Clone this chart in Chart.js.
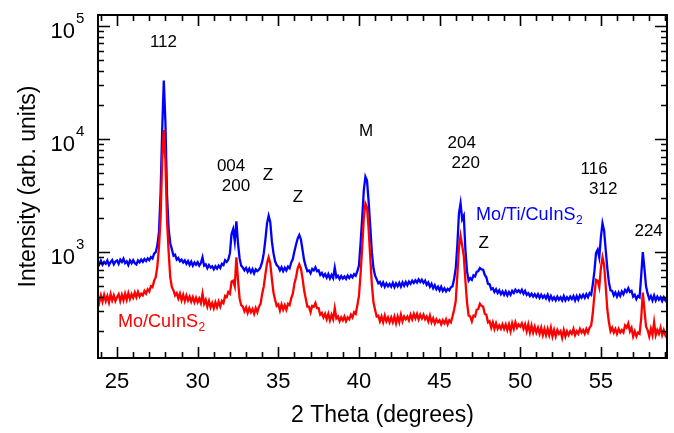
<!DOCTYPE html>
<html><head><meta charset="utf-8">
<script src="https://cdn.jsdelivr.net/npm/chart.js@4/dist/chart.umd.min.js"></script>
<style>html,body{margin:0;padding:0;background:#fff}#wrap{width:674px;height:433px;position:relative}</style>
</head><body><div id="wrap"><canvas id="c" width="674" height="433"></canvas></div>
<script>
// 2-theta positions (degrees)
const twoTheta = [
23.8,23.9,
24.0,24.1,24.2,24.3,24.4,24.5,24.6,24.7,24.8,24.9,
25.0,25.1,25.2,25.3,25.4,25.5,25.6,25.7,25.8,25.9,
26.0,26.1,26.2,26.3,26.4,26.5,26.6,26.7,26.8,26.9,
27.0,27.1,27.2,27.3,27.4,27.5,27.6,27.7,27.8,27.9,
28.0,28.1,28.2,28.3,28.4,28.5,28.6,28.7,28.8,28.9,
29.0,29.1,29.2,29.3,29.4,29.5,29.6,29.7,29.8,29.9,
30.0,30.1,30.2,30.3,30.4,30.5,30.6,30.7,30.8,30.9,
31.0,31.1,31.2,31.3,31.4,31.5,31.6,31.7,31.8,31.9,
32.0,32.1,32.2,32.3,32.4,32.5,32.6,32.7,32.8,32.9,
33.0,33.1,33.2,33.3,33.4,33.5,33.6,33.7,33.8,33.9,
34.0,34.1,34.2,34.3,34.4,34.5,34.6,34.7,34.8,34.9,
35.0,35.1,35.2,35.3,35.4,35.5,35.6,35.7,35.8,35.9,
36.0,36.1,36.2,36.3,36.4,36.5,36.6,36.7,36.8,36.9,
37.0,37.1,37.2,37.3,37.4,37.5,37.6,37.7,37.8,37.9,
38.0,38.1,38.2,38.3,38.4,38.5,38.6,38.7,38.8,38.9,
39.0,39.1,39.2,39.3,39.4,39.5,39.6,39.7,39.8,39.9,
40.0,40.1,40.2,40.3,40.4,40.5,40.6,40.7,40.8,40.9,
41.0,41.1,41.2,41.3,41.4,41.5,41.6,41.7,41.8,41.9,
42.0,42.1,42.2,42.3,42.4,42.5,42.6,42.7,42.8,42.9,
43.0,43.1,43.2,43.3,43.4,43.5,43.6,43.7,43.8,43.9,
44.0,44.1,44.2,44.3,44.4,44.5,44.6,44.7,44.8,44.9,
45.0,45.1,45.2,45.3,45.4,45.5,45.6,45.7,45.8,45.9,
46.0,46.1,46.2,46.3,46.4,46.5,46.6,46.7,46.8,46.9,
47.0,47.1,47.2,47.3,47.4,47.5,47.6,47.7,47.8,47.9,
48.0,48.1,48.2,48.3,48.4,48.5,48.6,48.7,48.8,48.9,
49.0,49.1,49.2,49.3,49.4,49.5,49.6,49.7,49.8,49.9,
50.0,50.1,50.2,50.3,50.4,50.5,50.6,50.7,50.8,50.9,
51.0,51.1,51.2,51.3,51.4,51.5,51.6,51.7,51.8,51.9,
52.0,52.1,52.2,52.3,52.4,52.5,52.6,52.7,52.8,52.9,
53.0,53.1,53.2,53.3,53.4,53.5,53.6,53.7,53.8,53.9,
54.0,54.1,54.2,54.3,54.4,54.5,54.6,54.7,54.8,54.9,
55.0,55.1,55.2,55.3,55.4,55.5,55.6,55.7,55.8,55.9,
56.0,56.1,56.2,56.3,56.4,56.5,56.6,56.7,56.8,56.9,
57.0,57.1,57.2,57.3,57.4,57.5,57.6,57.7,57.8,57.9,
58.0,58.1,58.2,58.3,58.4,58.5,58.6,58.7,58.8,58.9,
59.0,59.1
];

// Mo/Ti/CuInS2 intensity (blue)
const moTiCuInS2 = [
830,780,
840,775,820,790,845,770,815,850,780,825,
845,790,860,820,875,800,830,770,845,800,
850,800,780,845,815,860,820,870,835,880,
850,905,880,970,1000,1150,1500,3300,12000,33000,
14000,3200,1600,1200,1060,930,950,860,890,830,
860,810,845,790,835,770,825,760,810,775,
815,760,800,900,760,780,720,770,730,750,
705,750,715,760,725,790,770,850,820,860,
980,1450,1600,1250,1870,1200,880,760,730,690,
725,670,715,665,710,650,705,680,700,740,
820,980,1300,1800,2100,1850,1250,980,830,770,
745,690,735,680,730,690,745,720,810,870,
1020,1170,1320,1420,1300,1050,850,750,680,690,
650,710,690,735,680,690,630,655,610,640,
595,640,585,630,590,730,600,620,580,615,
585,610,580,620,590,625,600,640,620,680,
760,1200,2000,3500,4650,4300,2800,1700,1000,720,
620,575,530,545,505,540,495,530,500,525,
495,535,490,530,500,535,495,540,505,545,
510,550,525,560,535,565,540,575,545,570,
535,560,515,540,495,525,480,510,470,495,
460,495,455,480,450,475,460,490,500,580,
720,1150,2200,2700,1950,2100,1050,680,560,590,
570,625,610,670,680,725,705,700,630,600,
525,520,470,480,445,470,435,460,425,450,
420,450,415,445,420,455,435,465,445,460,
440,465,430,455,420,435,410,430,405,425,
400,425,395,420,395,415,390,420,380,410,
380,400,375,405,380,400,375,410,375,400,
380,405,385,410,375,410,380,415,395,420,
395,425,400,435,420,520,680,980,1050,900,
1350,1800,1550,1050,720,540,460,455,415,440,
405,440,410,450,425,465,445,480,445,455,
405,420,385,410,400,620,1000,720,500,430,
385,410,375,415,375,405,380,400,370,400,
375,395
];

// Mo/CuInS2 intensity (red)
const moCuInS2 = [
410,360,
415,365,420,370,410,360,425,375,415,370,
400,425,370,420,375,430,380,435,385,425,
395,440,400,445,405,430,415,455,430,470,
450,500,490,560,600,750,1100,2000,6500,12000,
6500,1900,1000,600,490,460,415,435,390,430,
375,420,370,415,375,405,365,400,360,395,
360,390,355,430,350,380,330,370,325,355,
320,360,325,365,330,370,355,410,400,445,
430,550,560,500,900,570,390,340,330,300,
325,290,320,295,315,285,320,295,330,350,
430,500,640,800,900,800,580,440,380,335,
345,305,345,310,340,310,350,340,390,430,
530,600,720,780,720,590,460,390,330,330,
295,335,330,355,320,320,280,290,265,285,
255,285,250,280,255,320,260,270,245,265,
250,270,245,265,255,280,265,295,285,340,
410,640,1100,2000,2700,2500,1600,900,520,360,
310,270,275,245,270,240,275,245,265,240,
265,240,270,235,270,240,280,245,270,255,
270,250,280,255,285,260,285,255,280,260,
280,255,270,245,275,240,260,235,255,240,
250,230,250,235,255,230,250,240,270,310,
370,620,1100,1400,1150,920,560,360,275,270,
245,275,270,310,315,350,335,330,285,280,
240,245,215,240,210,235,210,225,210,230,
210,230,205,230,200,235,210,240,215,230,
220,235,210,230,200,230,195,225,195,220,
195,215,190,215,185,210,185,210,185,215,
180,205,180,205,190,200,175,205,180,200,
185,200,190,210,185,200,190,210,195,205,
190,210,195,215,225,290,420,570,560,490,
720,900,770,500,310,240,200,215,195,210,
190,210,195,205,195,225,215,235,200,215,
180,200,180,195,190,260,440,310,220,205,
180,210,185,240,185,205,190,215,185,205,
185,200
];

const xTickValues = [25,30,35,40,45,50,55];
const xTickLabels = ['25','30','35','40','45','50','55'];
const yTickValues = [1000,10000,100000];
const yTickExponents = ['3','4','5'];

// peak annotations: text anchored at (2theta, intensity)
const peakLabelText = ['112','004','200','Z','Z','M','204','220','Z','116','312','224'];
const peakLabelX    = [27.88,32.07,32.38,34.36,36.22,40.44,46.37,46.62,47.74,54.58,55.15,57.96];
const peakLabelY    = [71400,5730,3820,4740,3060,11670,9140,6140,1208,5360,3570,1514];

const seriesNames = ['Mo/Ti/CuInS', 'Mo/CuInS'];
const seriesSub = '2';

const FONT = '"Liberation Sans", Arial, sans-serif';
const BLUE = '#0000ff', RED = '#ff0000';

const overlay = {
  id: 'overlay',
  afterDraw(chart) {
    const ctx = chart.ctx, xs = chart.scales.x, ys = chart.scales.y, a = chart.chartArea;
    ctx.save();
    ctx.strokeStyle = '#000'; ctx.fillStyle = '#000';
    ctx.lineWidth = 2;
    ctx.strokeRect(a.left, a.top, a.right - a.left, a.bottom - a.top);
    ctx.lineWidth = 1.6;
    ctx.beginPath();
    for (let v = Math.ceil(xs.min); v <= Math.floor(xs.max); v++) {
      const px = Math.round(xs.getPixelForValue(v)) + 0.5;
      const len = (v % 5 === 0) ? 11 : 6;
      ctx.moveTo(px, a.bottom); ctx.lineTo(px, a.bottom - len);
      ctx.moveTo(px, a.top); ctx.lineTo(px, a.top + len);
    }
    for (let d = 2; d <= 5; d++) {
      for (let k = 1; k <= 9; k++) {
        const v = k * Math.pow(10, d);
        if (v < ys.min || v > ys.max) continue;
        const py = Math.round(ys.getPixelForValue(v)) + 0.5;
        const len = (k === 1) ? 12 : 6;
        ctx.moveTo(a.left, py); ctx.lineTo(a.left + len, py);
        ctx.moveTo(a.right, py); ctx.lineTo(a.right - len, py);
      }
    }
    ctx.stroke();

    ctx.font = '22px ' + FONT;
    ctx.textAlign = 'center'; ctx.textBaseline = 'alphabetic';
    xTickValues.forEach((v, i) => ctx.fillText(xTickLabels[i], xs.getPixelForValue(v), 388));
    yTickValues.forEach((v, i) => {
      const py = ys.getPixelForValue(v);
      ctx.font = '22px ' + FONT; ctx.textAlign = 'right';
      ctx.fillText('10', 75, py + 12);
      ctx.font = '15px ' + FONT; ctx.textAlign = 'left';
      ctx.fillText(yTickExponents[i], 76, py - 3);
    });
    ctx.font = '23px ' + FONT; ctx.textAlign = 'center';
    ctx.fillText('2 Theta (degrees)', (a.left + a.right) / 2, 422);
    ctx.save();
    ctx.translate(35, (a.top + a.bottom) / 2);
    ctx.rotate(-Math.PI / 2);
    ctx.fillText('Intensity (arb. units)', 0, 0);
    ctx.restore();

    ctx.font = '17px ' + FONT; ctx.textAlign = 'center'; ctx.textBaseline = 'middle';
    peakLabelText.forEach((t, i) => ctx.fillText(t, xs.getPixelForValue(peakLabelX[i]), ys.getPixelForValue(peakLabelY[i])));

    const drawName = (name, color, xv, yv) => {
      const px = xs.getPixelForValue(xv), py = ys.getPixelForValue(yv);
      ctx.fillStyle = color; ctx.textAlign = 'left'; ctx.textBaseline = 'alphabetic';
      ctx.font = '18px ' + FONT;
      ctx.fillText(name, px, py);
      const w = ctx.measureText(name).width;
      ctx.font = '12px ' + FONT;
      ctx.fillText(seriesSub, px + w + 0.5, py + 4);
    };
    drawName(seriesNames[0], BLUE, 47.26, 1940);
    drawName(seriesNames[1], RED, 25.06, 216);
    ctx.restore();
  }
};

new Chart(document.getElementById('c'), {
  type: 'line',
  data: {
    datasets: [
      { label: 'Mo/CuInS2', data: twoTheta.map((x, i) => ({ x, y: moCuInS2[i] })), borderColor: RED, borderWidth: 2.3, pointRadius: 0, tension: 0, fill: false },
      { label: 'Mo/Ti/CuInS2', data: twoTheta.map((x, i) => ({ x, y: moTiCuInS2[i] })), borderColor: BLUE, borderWidth: 2.3, pointRadius: 0, tension: 0, fill: false }
    ]
  },
  options: {
    responsive: false, animation: false, devicePixelRatio: 1,
    layout: { padding: { left: 98, right: 7, top: 15, bottom: 75 } },
    scales: {
      x: { type: 'linear', min: 23.82, max: 59.1, display: false },
      y: { type: 'logarithmic', min: 116, max: 125000, display: false }
    },
    plugins: { legend: { display: false }, tooltip: { enabled: false } }
  },
  plugins: [overlay]
});
</script>
</body></html>
